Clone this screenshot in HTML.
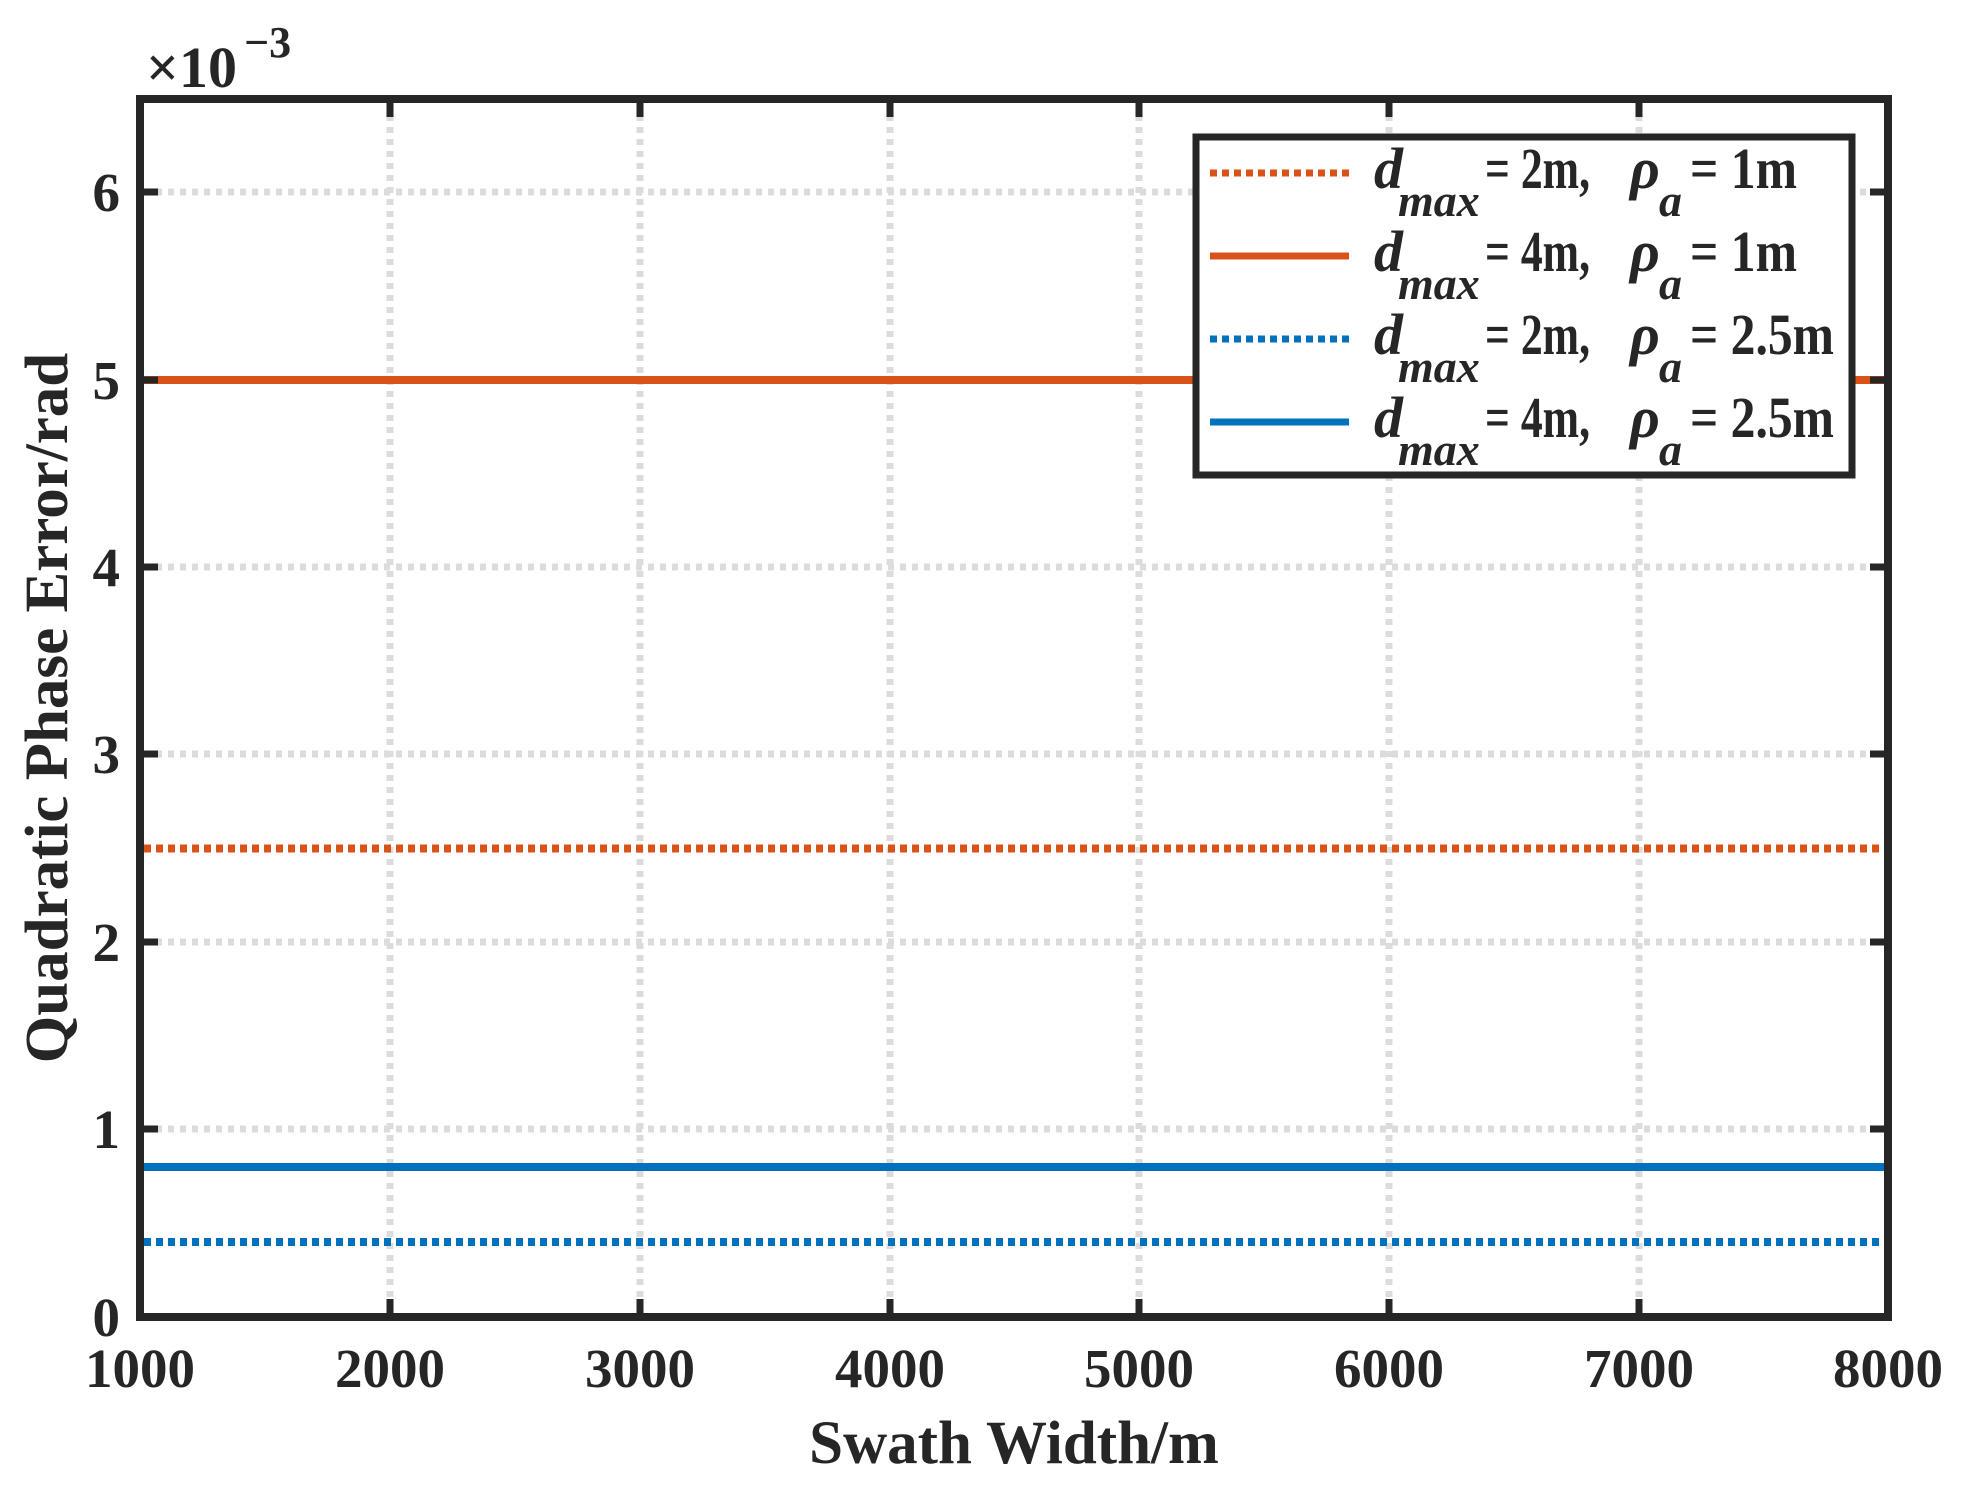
<!DOCTYPE html>
<html><head><meta charset="utf-8"><style>
html,body{margin:0;padding:0;background:#fff;}
svg{display:block;}
text{font-family:"Liberation Serif",serif;font-weight:bold;fill:#262626;}
</style></head><body>
<svg width="1963" height="1490" viewBox="0 0 1963 1490" xmlns="http://www.w3.org/2000/svg">
<rect width="1963" height="1490" fill="#fff"/>
<g stroke="#dcdcdc" stroke-width="7" stroke-dasharray="6 6">
<line x1="390" y1="103" x2="390" y2="1313"/>
<line x1="640" y1="103" x2="640" y2="1313"/>
<line x1="890" y1="103" x2="890" y2="1313"/>
<line x1="1139" y1="103" x2="1139" y2="1313"/>
<line x1="1389" y1="103" x2="1389" y2="1313"/>
<line x1="1639" y1="103" x2="1639" y2="1313"/>
<line x1="144" y1="192" x2="1884" y2="192"/>
<line x1="144" y1="380" x2="1884" y2="380"/>
<line x1="144" y1="567" x2="1884" y2="567"/>
<line x1="144" y1="754" x2="1884" y2="754"/>
<line x1="144" y1="942" x2="1884" y2="942"/>
<line x1="144" y1="1129" x2="1884" y2="1129"/>
</g>
<g stroke-width="8">
<line x1="144" y1="380" x2="1884" y2="380" stroke="#D95319"/>
<line x1="144" y1="848.5" x2="1884" y2="848.5" stroke="#D95319" stroke-dasharray="7 5"/>
<line x1="144" y1="1167" x2="1884" y2="1167" stroke="#0072BD"/>
<line x1="144" y1="1242" x2="1884" y2="1242" stroke="#0072BD" stroke-dasharray="7 5"/>
</g>
<g stroke="#262626" stroke-width="7">
<path d="M390 1317v-18M640 1317v-18M890 1317v-18M1139 1317v-18M1389 1317v-18M1639 1317v-18M390 99v18M640 99v18M890 99v18M1139 99v18M1389 99v18M1639 99v18"/>
<path d="M140 192h18M140 380h18M140 567h18M140 754h18M140 942h18M140 1129h18M1888 192h-18M1888 380h-18M1888 567h-18M1888 754h-18M1888 942h-18M1888 1129h-18"/>
<rect x="140" y="99" width="1748" height="1218" fill="none" stroke-width="8"/>
</g>
<g font-size="55" text-anchor="end">
<text x="120" y="1336">0</text>
<text x="120" y="1148">1</text>
<text x="120" y="961">2</text>
<text x="120" y="773">3</text>
<text x="120" y="586">4</text>
<text x="120" y="399">5</text>
<text x="120" y="211">6</text>
</g>
<g font-size="55" text-anchor="middle">
<text x="140" y="1387">1000</text>
<text x="390" y="1387">2000</text>
<text x="640" y="1387">3000</text>
<text x="890" y="1387">4000</text>
<text x="1139" y="1387">5000</text>
<text x="1389" y="1387">6000</text>
<text x="1639" y="1387">7000</text>
<text x="1888" y="1387">8000</text>
</g>
<text x="1014" y="1463" font-size="61" text-anchor="middle">Swath Width/m</text>
<text transform="translate(67,708) rotate(-90)" font-size="61" text-anchor="middle">Quadratic Phase Error/rad</text>
<text x="146" y="87" font-size="58">×10</text>
<text x="244" y="57" font-size="44">−3</text>
<rect x="1196" y="137" width="656" height="338" fill="#fff" stroke="#262626" stroke-width="7"/>
<g stroke-width="7">
<line x1="1210" y1="173" x2="1349" y2="173" stroke="#D95319" stroke-dasharray="7 5"/>
<line x1="1210" y1="256" x2="1349" y2="256" stroke="#D95319"/>
<line x1="1210" y1="339" x2="1349" y2="339" stroke="#0072BD" stroke-dasharray="7 5"/>
<line x1="1210" y1="422" x2="1349" y2="422" stroke="#0072BD"/>
</g>
<g font-size="58">
<g>
<text x="1374" y="188" font-style="italic">d</text><text x="1398" y="216" font-style="italic" font-size="46">max</text><text x="1485" y="188" textLength="105" lengthAdjust="spacingAndGlyphs">= 2m,</text><text x="1630" y="188" font-style="italic">ρ</text><text x="1659" y="216" font-style="italic" font-size="46">a</text><text x="1690" y="188" textLength="107" lengthAdjust="spacingAndGlyphs">= 1m</text>
</g>
<g>
<text x="1374" y="271" font-style="italic">d</text><text x="1398" y="299" font-style="italic" font-size="46">max</text><text x="1485" y="271" textLength="105" lengthAdjust="spacingAndGlyphs">= 4m,</text><text x="1630" y="271" font-style="italic">ρ</text><text x="1659" y="299" font-style="italic" font-size="46">a</text><text x="1690" y="271" textLength="107" lengthAdjust="spacingAndGlyphs">= 1m</text>
</g>
<g>
<text x="1374" y="354" font-style="italic">d</text><text x="1398" y="382" font-style="italic" font-size="46">max</text><text x="1485" y="354" textLength="105" lengthAdjust="spacingAndGlyphs">= 2m,</text><text x="1630" y="354" font-style="italic">ρ</text><text x="1659" y="382" font-style="italic" font-size="46">a</text><text x="1690" y="354" textLength="144" lengthAdjust="spacingAndGlyphs">= 2.5m</text>
</g>
<g>
<text x="1374" y="437" font-style="italic">d</text><text x="1398" y="465" font-style="italic" font-size="46">max</text><text x="1485" y="437" textLength="105" lengthAdjust="spacingAndGlyphs">= 4m,</text><text x="1630" y="437" font-style="italic">ρ</text><text x="1659" y="465" font-style="italic" font-size="46">a</text><text x="1690" y="437" textLength="144" lengthAdjust="spacingAndGlyphs">= 2.5m</text>
</g>
</g>
</svg>
</body></html>
